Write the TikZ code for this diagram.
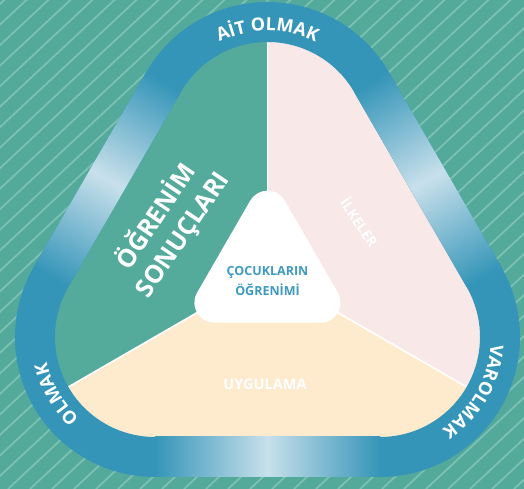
\documentclass[tikz,border=0pt]{standalone}
\usepackage{fontspec}
\setmainfont{Open Sans}
\usetikzlibrary{calc,decorations.text}
\definecolor{bg}{HTML}{53AA9B}
\definecolor{stripecol}{HTML}{7CC1B2}
\definecolor{ringblue}{HTML}{3595B8}
\definecolor{ringlight}{HTML}{C8E0EB}
\definecolor{sgreen}{HTML}{54AB9C}
\definecolor{spink}{HTML}{F8E8E8}
\definecolor{scream}{HTML}{FEEBCE}
\definecolor{ctext}{HTML}{3E9AC2}
\tikzset{
  stripe/.style={stripecol, line width=1.8pt},
  divider/.style={white, line width=1.6pt},
  ringtext/.style={decorate, decoration={text along path, text align=center, text color=white,
     text={|\fontsize{18}{18}\selectfont\bfseries|#1}}},
  bandshade/.style={left color=ringblue, right color=ringblue, middle color=ringlight},
}
\begin{document}
\begin{tikzpicture}[x=1pt,y=1pt]
\useasboundingbox (0,0) rectangle (524,489);
\fill[bg] (0,0) rectangle (524,489);
\begin{scope}
  \clip (0,0) rectangle (524,489);
  \foreach \i in {-45,...,25} \draw[stripe] (\i*22+8,0) -- ++(43:900);
\end{scope}

\coordinate (T) at (267.5,347);
\coordinate (B) at (155,152);
\coordinate (C) at (380,152);
\coordinate (O) at (267.5,217);

% sectors
\begin{scope}
  \clip ($(B)+(0,-102)$) -- ($(C)+(0,-102)$) arc[start angle=-90,end angle=30,radius=102]
    -- ($(T)+(30:102)$) arc[start angle=30,end angle=150,radius=102]
    -- ($(B)+(150:102)$) arc[start angle=150,end angle=270,radius=102] -- cycle;
  \fill[sgreen] (O) -- ($(O)+(90:400)$) -- ($(O)+(150:400)$) -- ($(O)+(210:400)$) -- cycle;
  \fill[spink] (O) -- ($(O)+(90:400)$) -- ($(O)+(30:400)$) -- ($(O)+(-30:400)$) -- cycle;
  \fill[scream] (O) -- ($(O)+(210:400)$) -- ($(O)+(270:400)$) -- ($(O)+(330:400)$) -- cycle;
  \draw[divider] (O) -- ($(O)+(90:400)$);
  \draw[divider] (O) -- ($(O)+(210:400)$);
  \draw[divider] (O) -- ($(O)+(330:400)$);
\end{scope}

% ring
\fill[ringblue, even odd rule]
  ($(B)+(0,-140)$) -- ($(C)+(0,-140)$) arc[start angle=-90,end angle=30,radius=140]
    -- ($(T)+(30:140)$) arc[start angle=30,end angle=150,radius=140]
    -- ($(B)+(150:140)$) arc[start angle=150,end angle=270,radius=140] -- cycle
  ($(B)+(0,-100)$) -- ($(C)+(0,-100)$) arc[start angle=-90,end angle=30,radius=100]
    -- ($(T)+(30:100)$) arc[start angle=30,end angle=150,radius=100]
    -- ($(B)+(150:100)$) arc[start angle=150,end angle=270,radius=100] -- cycle;
\begin{scope}[transform canvas={shift={(267.5,32)}}]
  \shade[bandshade] (-112.5,-20) rectangle (112.5,20);
\end{scope}
\begin{scope}[transform canvas={shift={(107.3,309.5)}, rotate=60}]
  \shade[bandshade] (-112.5,-20) rectangle (112.5,20);
\end{scope}
\begin{scope}[transform canvas={shift={(427.7,309.5)}, rotate=-60}]
  \shade[bandshade] (-112.5,-20) rectangle (112.5,20);
\end{scope}

% ring labels
\path[ringtext={AİT OLMAK}] ($(T)+(150:111)$) arc[start angle=150,end angle=30,radius=111];
\path[ringtext={VAROLMAK}] ($(C)+(30:111)$) arc[start angle=30,end angle=-90,radius=111];
\path[ringtext={OLMAK}] ($(B)+(270:111)$) arc[start angle=270,end angle=150,radius=111];

% centre
\coordinate (Tc) at (267.5,278.3);
\coordinate (Bc) at (214.4,186.3);
\coordinate (Cc) at (320.6,186.3);
\fill[white] ($(Bc)+(0,-20)$) -- ($(Cc)+(0,-20)$) arc[start angle=-90,end angle=30,radius=20]
    -- ($(Tc)+(30:20)$) arc[start angle=30,end angle=150,radius=20]
    -- ($(Bc)+(150:20)$) arc[start angle=150,end angle=270,radius=20] -- cycle;

\node[rotate=56, align=center, text=white, font=\fontsize{25}{32}\selectfont\bfseries] (ogr) at (169,263.5) {ÖĞRENİM\\SONUÇLARI};
\node[rotate=-56, text=white, font=\fontsize{14}{14}\selectfont\bfseries] (ilk) at (360,267) {İLKELER};
\node[text=white, font=\fontsize{14.5}{14.5}\selectfont\bfseries] (uyg) at (265,105) {UYGULAMA};
\node[align=center, text=ctext, font=\fontsize{12.5}{20}\selectfont\bfseries] (cocuk) at (267.5,208) {ÇOCUKLARIN\\ÖĞRENİMİ};
\end{tikzpicture}
\end{document}
